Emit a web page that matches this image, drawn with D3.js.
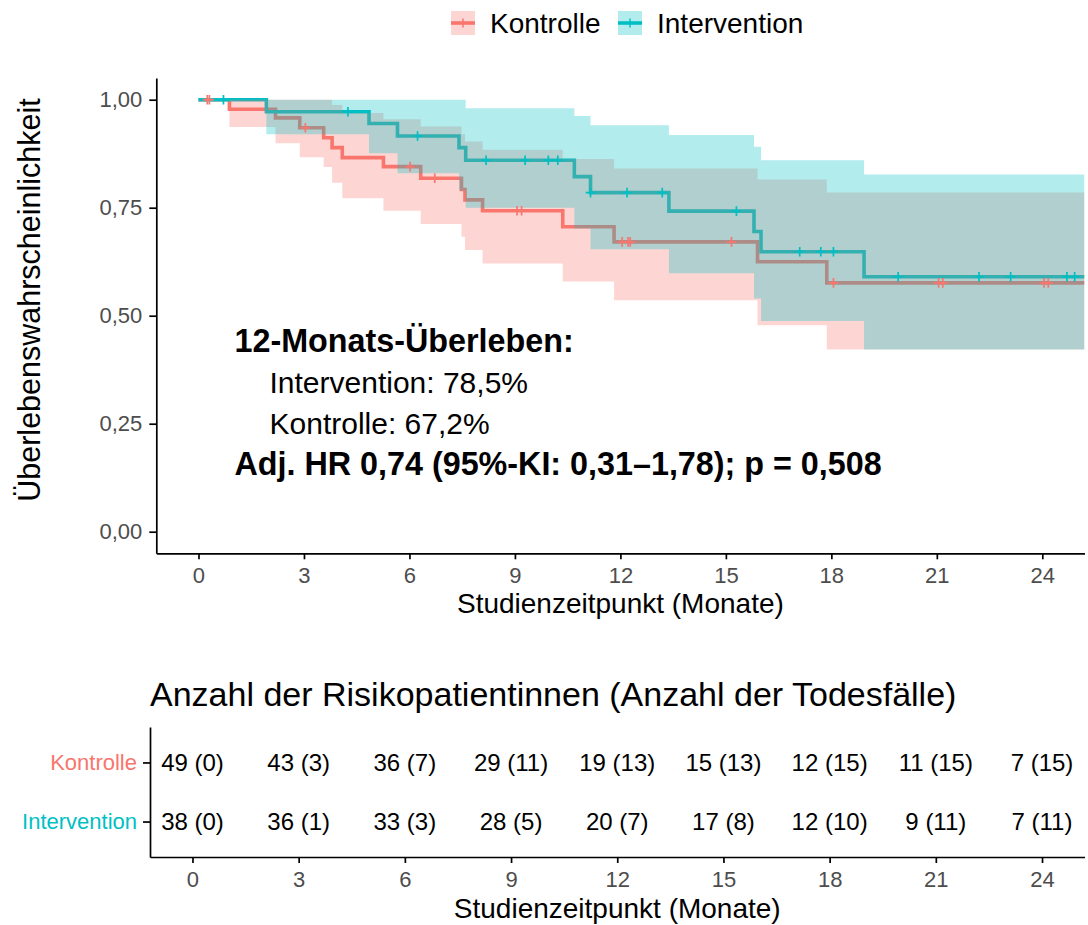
<!DOCTYPE html>
<html><head><meta charset="utf-8">
<script src="https://cdn.jsdelivr.net/npm/d3@7"></script>
<style>
body{margin:0;background:#fff}
text{font-family:"Liberation Sans",Arial,Helvetica,sans-serif}
</style>
</head><body><div id="chart"></div>
<script>
// ---------- data ----------
const groups = ["Kontrolle", "Intervention"];
const groupColors = ["#F8766D", "#00BFC4"];

const kontrolleTime  = [0, 0.88, 2.19, 2.88, 3.56, 3.80, 4.09, 5.26, 6.32, 7.48, 7.58, 8.08, 10.36, 11.82, 15.90, 17.87];
const kontrolleSurv  = [1, 0.978, 0.958, 0.935, 0.912, 0.889, 0.866, 0.845, 0.818, 0.792, 0.768, 0.743, 0.706, 0.671, 0.625, 0.576];
const kontrolleLower = [1, 0.937, 0.899, 0.867, 0.844, 0.808, 0.772, 0.743, 0.712, 0.683, 0.652, 0.621, 0.579, 0.536, 0.478, 0.422];
const kontrolleUpper = [1, 1, 1, 1, 1, 0.988, 0.969, 0.955, 0.938, 0.92, 0.903, 0.884, 0.863, 0.841, 0.815, 0.785];
const kontrolleCensor = [0.25, 0.31, 3.04, 6.02, 6.72, 9.06, 9.19, 12.05, 12.22, 12.28, 15.16, 18.06, 21.05, 21.17, 24.05, 24.17];

const interventionTime  = [0, 1.93, 4.85, 5.66, 7.41, 7.60, 10.69, 11.15, 13.38, 15.80, 16.00, 18.93];
const interventionSurv  = [1, 0.972, 0.945, 0.916, 0.889, 0.860, 0.822, 0.785, 0.742, 0.695, 0.648, 0.590];
const interventionLower = [1, 0.92, 0.876, 0.83, 0.79, 0.75, 0.702, 0.654, 0.598, 0.540, 0.488, 0.422];
const interventionUpper = [1, 1, 1, 1, 1, 0.98, 0.962, 0.941, 0.918, 0.891, 0.860, 0.827];
const interventionCensor = [0.71, 4.25, 6.23, 8.18, 9.29, 9.95, 10.22, 11.15, 12.19, 13.19, 15.30, 17.10, 17.70, 18.06, 19.90, 22.20, 23.10, 24.70, 24.92];

const followUpEnd = 25.2;

const monthTicks = [0, 3, 6, 9, 12, 15, 18, 21, 24];
const survTicks = [0, 0.25, 0.5, 0.75, 1];

const atRiskKontrolle = [49, 43, 36, 29, 19, 15, 12, 11, 7];
const deathsKontrolle = [0, 3, 7, 11, 13, 13, 15, 15, 15];
const atRiskIntervention = [38, 36, 33, 28, 20, 17, 12, 9, 7];
const deathsIntervention = [0, 1, 3, 5, 7, 8, 10, 11, 11];

const annotTitle = "12-Monats-Überleben:";
const annotLines = ["Intervention: 78,5%", "Kontrolle: 67,2%"];
const annotHR = "Adj. HR 0,74 (95%-KI: 0,31–1,78); p = 0,508";

const xTitle = "Studienzeitpunkt (Monate)";
const yTitle = "Überlebenswahrscheinlichkeit";
const tableTitle = "Anzahl der Risikopatientinnen (Anzahl der Todesfälle)";

// ---------- setup ----------
const W = 1088, H = 925;
const svg = d3.select("#chart").append("svg").attr("width", W).attr("height", H);
const fmt = d => d.toFixed(2).replace(".", ",");

const series = [
  {name: groups[0], color: groupColors[0], time: kontrolleTime, surv: kontrolleSurv, lo: kontrolleLower, hi: kontrolleUpper, cens: kontrolleCensor},
  {name: groups[1], color: groupColors[1], time: interventionTime, surv: interventionSurv, lo: interventionLower, hi: interventionUpper, cens: interventionCensor}
];

// ---------- main panel ----------
const P = {l: 156.3, r: 1084.5, t: 78.1, b: 553.3};
const x = d3.scaleLinear().domain([-1.2, 25.2]).range([P.l, P.r]);
const y = d3.scaleLinear().domain([-0.05, 1.05]).range([P.b, P.t]);

svg.append("clipPath").attr("id", "clip").append("rect")
  .attr("x", P.l).attr("y", P.t).attr("width", P.r - P.l).attr("height", P.b - P.t);
const plot = svg.append("g").attr("clip-path", "url(#clip)");

function pts(s, key) {
  const a = s.time.map((t, i) => ({t, v: s[key][i], lo: s.lo[i], hi: s.hi[i]}));
  const last = a[a.length - 1];
  a.push({t: followUpEnd, v: last.v, lo: last.lo, hi: last.hi});
  return a;
}
const line = d3.line().curve(d3.curveStepAfter).x(d => x(d.t)).y(d => y(d.v));
const area = d3.area().curve(d3.curveStepAfter).x(d => x(d.t)).y0(d => y(d.lo)).y1(d => y(d.hi));

// lines first
series.forEach(s => {
  plot.append("path").datum(pts(s, "surv")).attr("d", line)
    .attr("fill", "none").attr("stroke", s.color).attr("stroke-width", 3.6)
    .attr("stroke-linejoin", "miter");
});
// ribbons over lines
series.forEach(s => {
  plot.append("path").datum(pts(s, "surv")).attr("d", area)
    .attr("fill", s.color).attr("fill-opacity", 0.3).attr("stroke", "none");
});
// censor marks
function stepAt(times, vals, t) { let v = vals[0]; times.forEach((tt, i) => { if (tt <= t) v = vals[i]; }); return v; }
series.forEach(s => {
  plot.selectAll(null).data(s.cens).enter().append("path")
    .attr("d", c => { const cx = x(c), cy = y(stepAt(s.time, s.surv, c));
      return `M${cx},${cy - 4.8}V${cy + 4.8}M${cx - 4.8},${cy}H${cx + 4.8}`; })
    .attr("stroke", s.color).attr("stroke-width", 1.7).attr("fill", "none");
});

// axes
const xAxis = svg.append("g").attr("transform", `translate(0,${P.b})`)
  .call(d3.axisBottom(x).tickValues(monthTicks).tickSize(6).tickSizeOuter(0).tickPadding(8));
const yAxis = svg.append("g").attr("transform", `translate(${P.l},0)`)
  .call(d3.axisLeft(y).tickValues(survTicks).tickFormat(fmt).tickSize(7).tickSizeOuter(0).tickPadding(7));
[xAxis, yAxis].forEach(g => {
  g.select(".domain").attr("stroke", "#000").attr("stroke-width", 1.7);
  g.selectAll(".tick line").attr("stroke", "#000").attr("stroke-width", 1.7);
  g.selectAll(".tick text").attr("fill", "#4D4D4D").style("font-size", "22px").attr("font-family", null);
});

svg.append("text").attr("x", (P.l + P.r) / 2).attr("y", 613).attr("text-anchor", "middle")
  .style("font-size", "28px").attr("fill", "#000").text(xTitle);
svg.append("text").attr("transform", "translate(40,300) rotate(-90)").attr("text-anchor", "middle")
  .style("font-size", "30.5px").attr("fill", "#000").text(yTitle);

// annotation
svg.append("text").attr("x", 234.5).attr("y", 352).style("font-size", "32.3px").style("font-weight", "bold").text(annotTitle);
annotLines.forEach((t, i) => svg.append("text").attr("x", 269.5).attr("y", 392.5 + i * 41)
  .style("font-size", "30px").text(t));
svg.append("text").attr("x", 234.5).attr("y", 475).style("font-size", "32.3px").style("font-weight", "bold").text(annotHR);

// legend
const legX = [451, 618];
series.forEach((s, i) => {
  const g = svg.append("g").attr("transform", `translate(${legX[i]},11)`);
  g.append("rect").attr("width", 24).attr("height", 24).attr("fill", s.color).attr("fill-opacity", 0.3);
  g.append("line").attr("x1", 0).attr("x2", 24).attr("y1", 12).attr("y2", 12).attr("stroke", s.color).attr("stroke-width", 3.6);
  g.append("path").attr("d", "M12,7.5V16.5").attr("stroke", s.color).attr("stroke-width", 1.5);
  g.append("text").attr("x", 39).attr("y", 22).style("font-size", "28px").text(s.name);
});

// ---------- risk table ----------
const T = {l: 150, r: 1084.5, t: 727, b: 857};
const xr = d3.scaleLinear().domain([-1.2, 25.2]).range([T.l, T.r]);
const yr = d3.scalePoint().domain(groups).range([T.t, T.b]).padding(0.6);

svg.append("text").attr("x", 150).attr("y", 706).style("font-size", "34px").text(tableTitle);

const xrAxis = svg.append("g").attr("transform", `translate(0,${T.b})`)
  .call(d3.axisBottom(xr).tickValues(monthTicks).tickSize(6).tickSizeOuter(0).tickPadding(8));
const yrAxis = svg.append("g").attr("transform", `translate(${T.l},0)`)
  .call(d3.axisLeft(yr).tickSize(7).tickSizeOuter(0).tickPadding(6));
[xrAxis, yrAxis].forEach(g => {
  g.select(".domain").attr("stroke", "#000").attr("stroke-width", 1.7);
  g.selectAll(".tick line").attr("stroke", "#000").attr("stroke-width", 1.7);
  g.selectAll(".tick text").attr("fill", "#4D4D4D").style("font-size", "22px").attr("font-family", null);
});
yrAxis.selectAll(".tick text").attr("fill", d => groupColors[groups.indexOf(d)]).style("font-size", "22px");

const tableRows = [
  {g: groups[0], n: atRiskKontrolle, d: deathsKontrolle},
  {g: groups[1], n: atRiskIntervention, d: deathsIntervention}
];
tableRows.forEach(r => {
  svg.selectAll(null).data(monthTicks).enter().append("text")
    .attr("x", m => xr(m)).attr("y", yr(r.g)).attr("dy", "0.36em").attr("text-anchor", "middle")
    .style("font-size", "24px").attr("fill", "#000")
    .text((m, i) => `${r.n[i]} (${r.d[i]})`);
});

svg.append("text").attr("x", (T.l + T.r) / 2).attr("y", 918).attr("text-anchor", "middle")
  .style("font-size", "28px").attr("fill", "#000").text(xTitle);
</script></body></html>
